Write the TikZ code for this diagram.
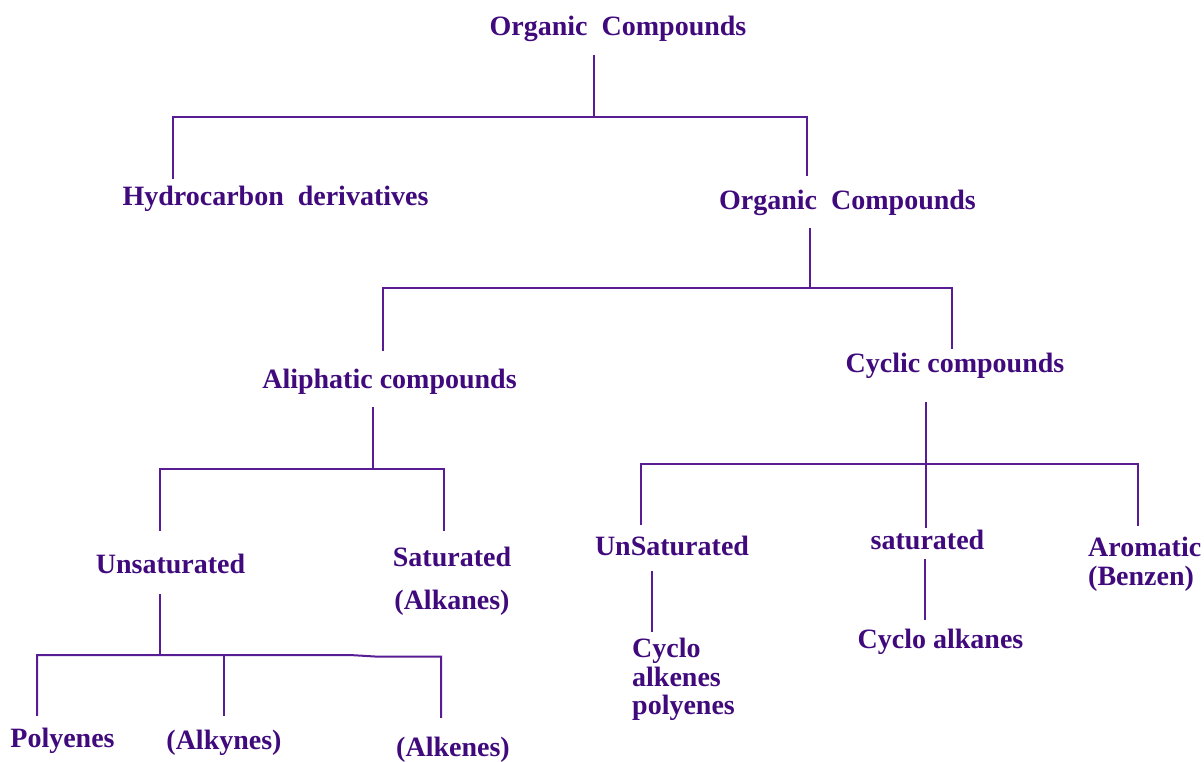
\documentclass[tikz,border=0pt]{standalone}
\usepackage{fontspec}
\setmainfont{Liberation Serif}
\definecolor{txt}{RGB}{64,10,125}
\definecolor{ln}{RGB}{88,28,148}
\begin{document}
\begin{tikzpicture}[x=1pt,y=-1pt,
  lbl/.style={anchor=base,inner sep=0pt,text height=18.5pt,text depth=0pt,
    font=\fontsize{28}{32}\selectfont\bfseries,text=txt},
  lblw/.style={lbl,anchor=base west},
  link/.style={draw=ln,line width=2pt}]
\useasboundingbox (0,0) rectangle (1204,761);
% nodes
\node[lbl] (root) at (618,35) {Organic~~Compounds};
\node[lbl] (hyd) at (275.5,205) {Hydrocarbon~~derivatives};
\node[lbl] (org2) at (847.5,209) {Organic~~Compounds};
\node[lbl] (aliph) at (389.5,388) {Aliphatic compounds};
\node[lbl] (cyclic) at (955,372) {Cyclic compounds};
\node[lbl] (unsat) at (170.5,573) {Unsaturated};
\node[lbl] (sat) at (452,566) {Saturated};
\node[lbl] (satb) at (452,609) {(Alkanes)};
\node[lbl] (poly) at (62.5,747) {Polyenes};
\node[lbl] (alkyn) at (224,749) {(Alkynes)};
\node[lbl] (alken) at (453,756) {(Alkenes)};
\node[lbl] (UnSat) at (672,555) {UnSaturated};
\node[lbl] (satd) at (927.5,549) {saturated};
\node[lblw] (arom) at (1088,556) {Aromatic};
\node[lblw] (aromb) at (1088,585) {(Benzen)};
\node[lblw] (cyc1) at (632,657) {Cyclo};
\node[lblw] (cyc2) at (632,686) {alkenes};
\node[lblw] (cyc3) at (632,714) {polyenes};
\node[lbl] (cycalk) at (940.5,648) {Cyclo alkanes};
% junction coordinates
\coordinate (j1) at (594,117);
\coordinate (j1l) at (173,117);
\coordinate (j1r) at (807,117);
\coordinate (j2) at (810,288);
\coordinate (j2l) at (383,288);
\coordinate (j2r) at (952,288);
\coordinate (j3) at (373,469);
\coordinate (j3l) at (160,469);
\coordinate (j3r) at (444,469);
\coordinate (j4) at (160,655);
\coordinate (j4l) at (37,655);
\coordinate (j4m) at (224,655);
\coordinate (j4k) at (350,655);
\coordinate (j4q) at (375,656.5);
\coordinate (j4r) at (441,656.5);
\coordinate (j5) at (926,464);
\coordinate (j5l) at (641,464);
\coordinate (j5r) at (1138,464);
% connectors
\draw[link] ([yshift=-20pt]root.south -| j1) -- (j1);
\draw[link] ([yshift=7pt]hyd.north -| j1l) -- (j1l) -- (j1r) -- ([yshift=14pt]org2.north -| j1r);
\draw[link] ([yshift=-19pt]org2.south -| j2) -- (j2);
\draw[link] ([yshift=18.5pt]aliph.north -| j2l) -- (j2l) -- (j2r) -- ([yshift=4.5pt]cyclic.north -| j2r);
\draw[link] ([yshift=-19pt]aliph.south -| j3) -- (j3);
\draw[link] ([yshift=23.5pt]unsat.north -| j3l) -- (j3l) -- (j3r) -- ([yshift=16.5pt]sat.north -| j3r);
\draw[link] ([yshift=-21pt]unsat.south -| j4) -- (j4);
\draw[link] ([yshift=12.5pt]poly.north -| j4l) -- (j4l) -- (j4k) -- (j4q) -- (j4r) -- ([yshift=19.5pt]alken.north -| j4r);
\draw[link] (j4m) -- ([yshift=14.5pt]alkyn.north -| j4m);
\draw[link] ([yshift=-30pt]cyclic.south -| j5) -- ([yshift=2.5pt]satd.north -| j5);
\draw[link] ([yshift=11.5pt]UnSat.north -| j5l) -- (j5l) -- (j5r) -- ([yshift=11pt]arom.north -| j5r);
\draw[link] ([yshift=-16pt]UnSat.south -| 652,0) -- ([yshift=6.5pt]cyc1.north -| 652,0);
\draw[link] ([yshift=-10pt]satd.south -| 925,0) -- ([yshift=9.5pt]cycalk.north -| 925,0);
\end{tikzpicture}
\end{document}
